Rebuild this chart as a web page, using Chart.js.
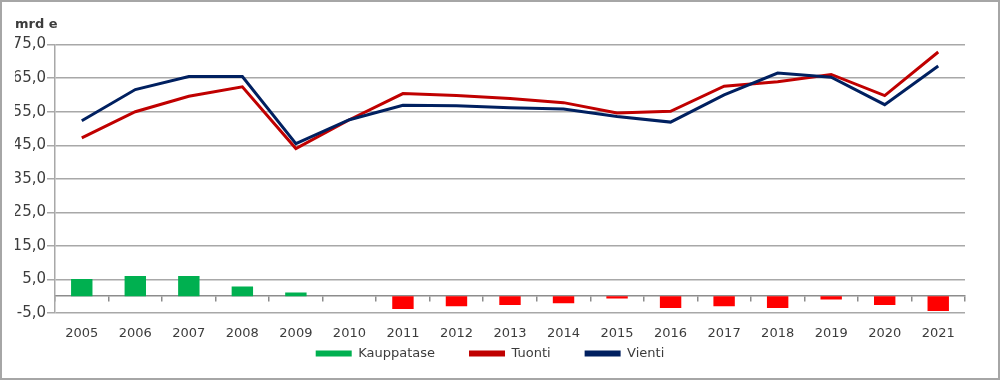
<!DOCTYPE html>
<html>
<head>
<meta charset="utf-8">
<script src="https://cdn.jsdelivr.net/npm/chart.js@4"></script>
<style>
  body { margin: 0; background: #fff; }
  #wrap { width: 1000px; height: 380px; box-sizing: border-box; border: 2px solid #a6a6a6; background: #fff; }
  #wrap canvas { display: block; }
</style>
</head>
<body>
<div id="wrap"><canvas id="tradeChart" width="996" height="376"></canvas></div>
<script>
const years = ['2005', '2006', '2007', '2008', '2009', '2010', '2011', '2012', '2013',
               '2014', '2015', '2016', '2017', '2018', '2019', '2020', '2021'];
const kauppatase = [5.1, 6.0, 6.0, 2.9, 1.1, 0.0, -3.8, -3.0, -2.6, -2.1, -0.7, -3.5, -3.0, -3.5, -1.0, -2.6, -4.4];
const tuonti = [47.2, 55.0, 59.6, 62.4, 44.0, 52.6, 60.4, 59.8, 58.9, 57.7, 54.6, 55.1, 62.6, 63.9, 66.1, 59.8, 72.8];
const vienti = [52.3, 61.6, 65.5, 65.5, 45.5, 52.6, 56.9, 56.8, 56.2, 55.8, 53.6, 51.9, 60.0, 66.5, 65.3, 57.1, 68.6];
const yMin = -5;
const yMax = 75;
const yStep = 10;

const gridColor = '#a8a8a8';
const textColor = '#3c3c3c';

function initializeTradeChart() {
    const canvas = document.getElementById('tradeChart');

    const data = {
        labels: years,
        datasets: [{
            type: 'bar',
            label: 'Kauppatase',
            data: kauppatase,
            backgroundColor: ctx => (ctx.raw < 0 ? '#ff0000' : '#00b050'),
            barPercentage: 0.4,
            categoryPercentage: 1,
            order: 2
        }, {
            type: 'line',
            label: 'Tuonti',
            data: tuonti,
            borderColor: '#c00000',
            backgroundColor: '#c00000',
            borderWidth: 3,
            pointRadius: 0,
            tension: 0,
            order: 1
        }, {
            type: 'line',
            label: 'Vienti',
            data: vienti,
            borderColor: '#002060',
            backgroundColor: '#002060',
            borderWidth: 3,
            pointRadius: 0,
            tension: 0,
            order: 0
        }]
    };

    const options = {
        responsive: false,
        animation: false,
        layout: {
            padding: { left: 13, right: 33, top: 0, bottom: 8 }
        },
        scales: {
            // year labels hang below the -5 line
            x: {
                position: { y: yMin },
                offset: true,
                grid: { display: false, drawTicks: false },
                border: { display: false },
                ticks: {
                    padding: 13,
                    color: textColor,
                    font: { family: 'DejaVu Sans', size: 13 }
                }
            },
            // zero line with tick marks between the years
            x2: {
                type: 'category',
                position: { y: 0 },
                offset: true,
                grid: {
                    offset: true,
                    drawOnChartArea: false,
                    drawTicks: true,
                    tickLength: 5,
                    color: '#8c8c8c',
                    lineWidth: 1.5
                },
                border: { color: '#8c8c8c', width: 1.5 },
                ticks: { display: false }
            },
            y: {
                min: yMin,
                max: yMax,
                grid: {
                    color: gridColor,
                    lineWidth: 1.5,
                    tickLength: 8
                },
                border: { color: gridColor, width: 1.5 },
                ticks: {
                    stepSize: yStep,
                    padding: 1,
                    color: textColor,
                    font: { family: 'DejaVu Sans', size: 15 },
                    callback: value => value.toFixed(1).replace('.', ',')
                },
                afterFit: scale => { scale.width = 40; }
            }
        },
        plugins: {
            title: {
                display: true,
                text: 'mrd e',
                align: 'start',
                color: textColor,
                font: { family: 'DejaVu Sans', size: 13, weight: 'bold' },
                padding: { top: 15, bottom: 12 }
            },
            legend: {
                position: 'bottom',
                maxHeight: 66,
                labels: {
                    boxWidth: 36,
                    boxHeight: 6,
                    padding: 34,
                    color: textColor,
                    font: { family: 'DejaVu Sans', size: 13 },
                    generateLabels: chart => chart.data.datasets.map((ds, i) => ({
                        text: ds.label,
                        fillStyle: i === 0 ? '#00b050' : ds.borderColor,
                        strokeStyle: i === 0 ? '#00b050' : ds.borderColor,
                        lineWidth: 0,
                        fontColor: textColor,
                        hidden: false,
                        datasetIndex: i
                    }))
                }
            },
            tooltip: { enabled: false }
        }
    };

    new Chart(canvas, {
        data: data,
        options: options
    });
}

window.addEventListener('load', initializeTradeChart);
</script>
</body>
</html>
